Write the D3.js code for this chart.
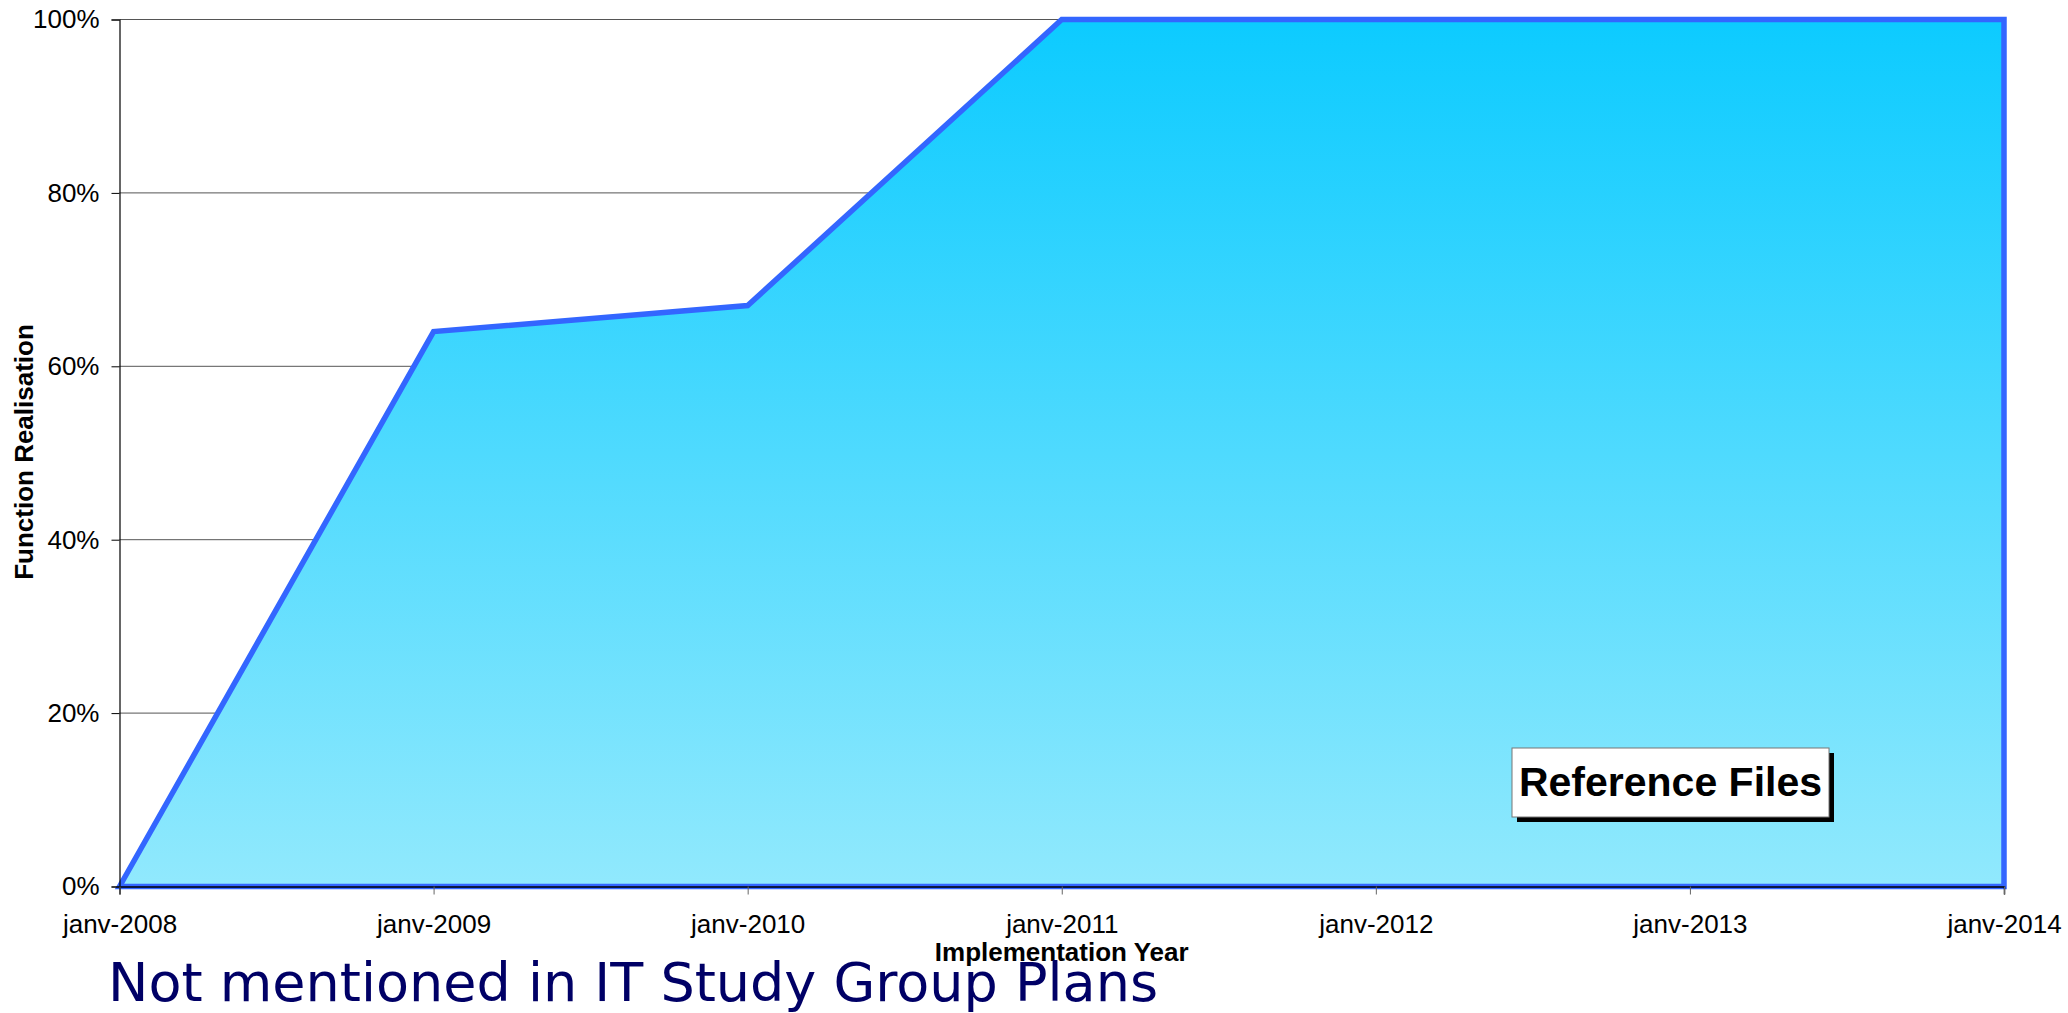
<!DOCTYPE html>
<html><head><meta charset="utf-8">
<script src="https://cdn.jsdelivr.net/npm/d3@7"></script>
<style>body{margin:0;background:#fff}svg{display:block}</style>
</head><body>
<svg id="c" width="2068" height="1013"></svg>
<script>
const years = [2008, 2009, 2010, 2011, 2012, 2013, 2014];
const tickLabels = ["janv-2008","janv-2009","janv-2010","janv-2011","janv-2012","janv-2013","janv-2014"];
const realisation = [0, 0.64, 0.67, 1.0, 1.0, 1.0, 1.0];
const yTicks = [0, 0.2, 0.4, 0.6, 0.8, 1.0];

const svg = d3.select("#c");
const L = 119.5, R = 2004, T = 19.5, B = 886.5;
const x = d3.scaleLinear().domain([2008, 2014]).range([L, R]);
const y = d3.scaleLinear().domain([0, 1]).range([B, T]);
const font = "'Liberation Sans', Arial, sans-serif";

const defs = svg.append("defs");
const g = defs.append("linearGradient").attr("id","fillG").attr("x1",0).attr("y1",0).attr("x2",0).attr("y2",1);
g.append("stop").attr("offset","0%").attr("stop-color","#0ccbff");
g.append("stop").attr("offset","100%").attr("stop-color","#91e9fd");

// gridlines
svg.append("g").selectAll("line").data(yTicks.slice(1)).join("line")
  .attr("x1", L).attr("x2", R).attr("y1", d => y(d)).attr("y2", d => y(d))
  .attr("stroke", "#555").attr("stroke-width", 1);

// area
const data = years.map((yr, i) => ({yr, v: realisation[i]}));
const area = d3.area().x(d => x(d.yr)).y0(y(0)).y1(d => y(d.v));
svg.append("path").datum(data)
  .attr("d", d => area(d) + "Z")
  .attr("fill", "url(#fillG)").attr("stroke", "#3366ff").attr("stroke-width", 5.5)
  .attr("stroke-linejoin", "miter");

// y axis
const yAxis = d3.axisLeft(y).tickValues(yTicks).tickFormat(d3.format(".0%")).tickSize(8).tickPadding(12);
const ya = svg.append("g").attr("transform", `translate(${L},0)`).call(yAxis);
ya.select(".domain").attr("stroke", "#000").attr("stroke-width", 1.2);
ya.selectAll(".tick line").attr("stroke", "#000");
ya.selectAll("text").attr("font-family", font).attr("font-size", 26).attr("fill", "#000");

// x axis
const xAxis = d3.axisBottom(x).tickValues(years).tickFormat((d, i) => tickLabels[i]).tickSize(8).tickPadding(20);
const xa = svg.append("g").attr("transform", `translate(0,${B})`).call(xAxis);
xa.select(".domain").attr("stroke", "#000").attr("stroke-width", 1.5);
xa.selectAll(".tick line").attr("stroke", "#666");
xa.selectAll("text").attr("font-family", font).attr("font-size", 26).attr("fill", "#000");

// axis titles
svg.append("text").attr("x", (L + R) / 2).attr("y", 961).attr("text-anchor", "middle")
  .attr("font-family", font).attr("font-weight", "bold").attr("font-size", 26).text("Implementation Year");
svg.append("text").attr("transform", `translate(33,452) rotate(-90)`).attr("text-anchor", "middle")
  .attr("font-family", font).attr("font-weight", "bold").attr("font-size", 26).text("Function Realisation");

// Reference Files box
const bx = 1512, by = 748, bw = 317, bh = 69;
svg.append("rect").attr("x", bx + 5).attr("y", by + 5).attr("width", bw).attr("height", bh).attr("fill", "#000");
svg.append("rect").attr("x", bx).attr("y", by).attr("width", bw).attr("height", bh).attr("fill", "#fff")
  .attr("stroke", "#777").attr("stroke-width", 1);
svg.append("text").attr("x", bx + bw / 2).attr("y", 796).attr("text-anchor", "middle")
  .attr("font-family", font).attr("font-weight", "bold").attr("font-size", 41).text("Reference Files");

// footer title
svg.append("text").attr("x", 108).attr("y", 1001).attr("font-family", "'DejaVu Sans', Verdana, sans-serif")
  .attr("font-size", 54).attr("fill", "#000066").text("Not mentioned in IT Study Group Plans");
</script>
</body></html>
